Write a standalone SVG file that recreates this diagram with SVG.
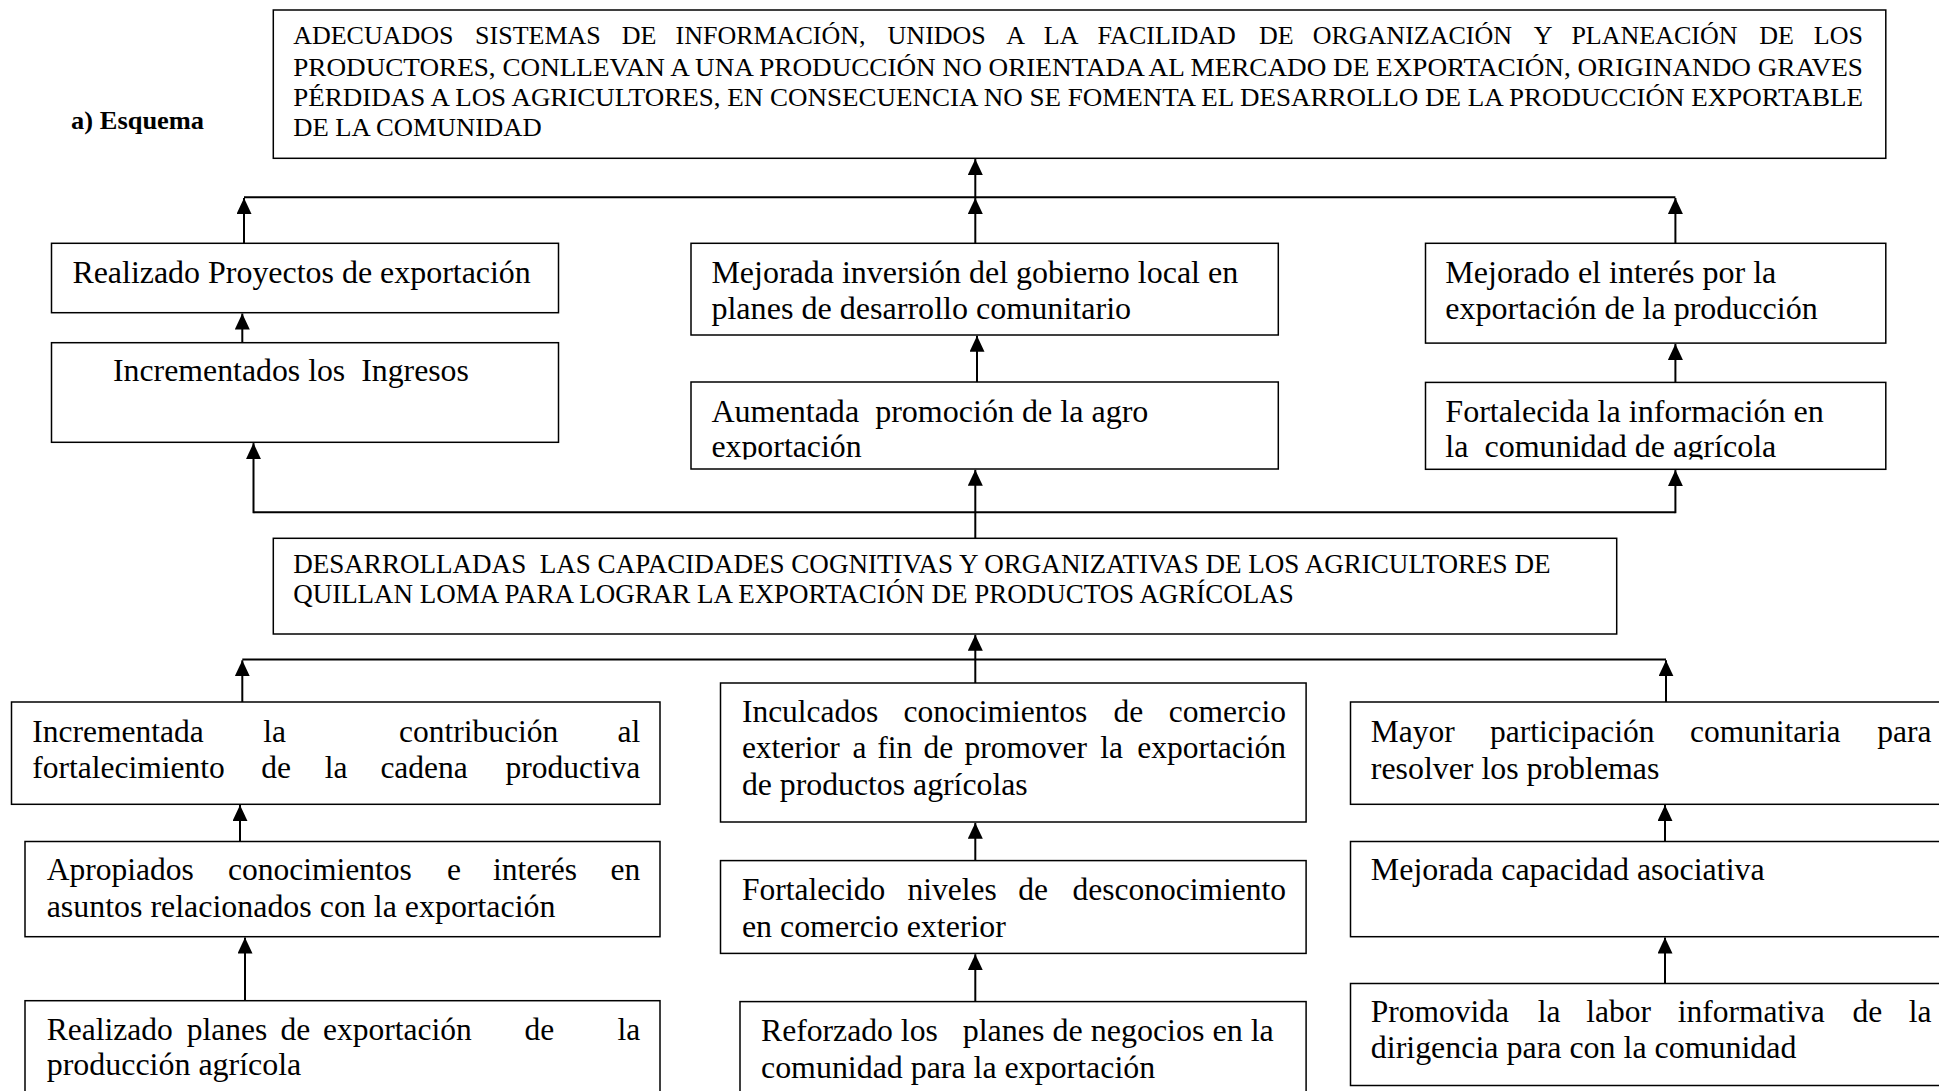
<svg xmlns="http://www.w3.org/2000/svg" width="1939" height="1091" viewBox="0 0 1939 1091">
<style>
.bx{fill:#fff;stroke:#000;stroke-width:1.5}
.t{font-family:"Liberation Serif","Times New Roman",serif;font-size:31px;fill:#000}
.w{font-size:31.5px}
.c{font-family:"Liberation Serif","Times New Roman",serif;font-size:25.5px;fill:#000}
.cw{font-size:26px}
.m{font-family:"Liberation Serif","Times New Roman",serif;font-size:26.5px;fill:#000}
.e{text-anchor:end}
.cn line{stroke:#000;stroke-width:2;fill:none}
.cn line.a{marker-end:url(#ah)}
</style>
<defs>
<marker id="ah" markerUnits="userSpaceOnUse" markerWidth="16" markerHeight="16" refX="16" refY="7.5" orient="auto">
<path d="M0,0 L16,7.5 L0,15 z" fill="#000"/>
</marker>
<clipPath id="clipA"><rect x="691" y="382" width="588" height="77.5"/></clipPath>
<clipPath id="clipB"><rect x="1425" y="382" width="461" height="77.5"/></clipPath>
</defs>
<rect width="1939" height="1091" fill="#fff"/>

<text x="71.1" y="128.6" font-family="Liberation Serif, serif" font-weight="bold" font-size="25" textLength="133" lengthAdjust="spacingAndGlyphs">a) Esquema</text>

<g class="cn">
<line x1="244" y1="197.3" x2="1675.4" y2="197.3"/>
<line class="a" x1="975.3" y1="197.3" x2="975.3" y2="159"/>
<line class="a" x1="244" y1="243.3" x2="244" y2="198"/>
<line class="a" x1="975.3" y1="243.3" x2="975.3" y2="198"/>
<line class="a" x1="1675.4" y1="243.3" x2="1675.4" y2="198"/>
<line class="a" x1="242.3" y1="342.7" x2="242.3" y2="313.5"/>
<line class="a" x1="977" y1="382" x2="977" y2="335.8"/>
<line class="a" x1="1675.4" y1="382.4" x2="1675.4" y2="343.9"/>
<line x1="253.5" y1="512.3" x2="1675.4" y2="512.3"/>
<line class="a" x1="253.5" y1="513.2" x2="253.5" y2="443.1"/>
<line class="a" x1="975.3" y1="512.3" x2="975.3" y2="469.8"/>
<line class="a" x1="1675.4" y1="513.2" x2="1675.4" y2="470.1"/>
<line x1="975.3" y1="538.3" x2="975.3" y2="512.3"/>
<line x1="242.3" y1="659.5" x2="1666" y2="659.5"/>
<line class="a" x1="975.3" y1="683" x2="975.3" y2="634.8"/>
<line class="a" x1="242.3" y1="702" x2="242.3" y2="660.3"/>
<line class="a" x1="1666" y1="702" x2="1666" y2="660.3"/>
<line class="a" x1="240" y1="841.5" x2="240" y2="805.1"/>
<line class="a" x1="975.3" y1="860.6" x2="975.3" y2="822.8"/>
<line class="a" x1="1665" y1="841.5" x2="1665" y2="805.1"/>
<line class="a" x1="245" y1="1000.7" x2="245" y2="937.5"/>
<line class="a" x1="975.3" y1="1001.6" x2="975.3" y2="954.2"/>
<line class="a" x1="1665" y1="983.5" x2="1665" y2="937.5"/>
</g>

<g id="n-top">
<rect class="bx" x="273.3" y="10" width="1612.5" height="148.3"/>
<text class="c cw" y="44.3"><tspan x="293.2">ADECUADOS</tspan><tspan x="475.1">SISTEMAS</tspan><tspan x="621.7">DE</tspan><tspan x="675.5">INFORMACIÓN,</tspan><tspan x="887.6">UNIDOS</tspan><tspan x="1006.2">A</tspan><tspan x="1043.8">LA</tspan><tspan x="1097.6">FACILIDAD</tspan><tspan x="1258.9">DE</tspan><tspan x="1312.7">ORGANIZACIÓN</tspan><tspan x="1533.8">Y</tspan><tspan x="1571.4">PLANEACIÓN</tspan><tspan x="1759.2">DE</tspan></text>
<text class="c cw e" x="1862.9" y="44.3">LOS</text>
<text class="c" x="293.2" y="75.5" textLength="1569.7" lengthAdjust="spacingAndGlyphs">PRODUCTORES, CONLLEVAN A UNA PRODUCCIÓN NO ORIENTADA AL MERCADO DE EXPORTACIÓN, ORIGINANDO GRAVES</text>
<text class="c" x="293.2" y="106" textLength="1569.7" lengthAdjust="spacingAndGlyphs">PÉRDIDAS A LOS AGRICULTORES, EN CONSECUENCIA NO SE FOMENTA EL DESARROLLO DE LA PRODUCCIÓN EXPORTABLE</text>
<text class="c" x="293.2" y="136" textLength="248.5" lengthAdjust="spacingAndGlyphs">DE LA COMUNIDAD</text>
</g>

<g id="n-proyectos">
<rect class="bx" x="51.5" y="243.3" width="507" height="69.4"/>
<text class="t" x="72.4" y="283.3" textLength="458.4" lengthAdjust="spacingAndGlyphs">Realizado Proyectos de exportación</text>
</g>

<g id="n-ingresos">
<rect class="bx" x="51.5" y="342.7" width="507" height="99.6"/>
<text class="t" x="113" y="381" textLength="355.9" lengthAdjust="spacingAndGlyphs" xml:space="preserve">Incrementados los  Ingresos</text>
</g>

<g id="n-inversion">
<rect class="bx" x="691" y="243.3" width="587.3" height="91.7"/>
<text class="t" x="711.4" y="282.5" textLength="526.8" lengthAdjust="spacingAndGlyphs">Mejorada inversión del gobierno local en</text>
<text class="t" x="711.4" y="318.5" textLength="419.7" lengthAdjust="spacingAndGlyphs">planes de desarrollo comunitario</text>
</g>

<g id="n-promocion">
<rect class="bx" x="691" y="382" width="587.3" height="87"/>
<g clip-path="url(#clipA)">
<text class="t" x="711.4" y="421.5" textLength="437" lengthAdjust="spacingAndGlyphs" xml:space="preserve">Aumentada  promoción de la agro</text>
<text class="t" x="711.4" y="456.5" textLength="150.3" lengthAdjust="spacingAndGlyphs">exportación</text>
</g>
</g>

<g id="n-interes">
<rect class="bx" x="1425.5" y="243.3" width="460.3" height="99.8"/>
<text class="t" x="1445.3" y="282.5" textLength="331" lengthAdjust="spacingAndGlyphs">Mejorado el interés por la</text>
<text class="t" x="1445.3" y="318.5" textLength="372.4" lengthAdjust="spacingAndGlyphs">exportación de la producción</text>
</g>

<g id="n-informacion">
<rect class="bx" x="1425.5" y="382.4" width="460.3" height="86.9"/>
<g clip-path="url(#clipB)">
<text class="t" x="1445.3" y="421.5" textLength="378.6" lengthAdjust="spacingAndGlyphs">Fortalecida la información en</text>
<text class="t" x="1445.3" y="456.5" textLength="331" lengthAdjust="spacingAndGlyphs" xml:space="preserve">la  comunidad de agrícola</text>
</g>
</g>

<g id="n-capacidades">
<rect class="bx" x="273.3" y="538.3" width="1343.4" height="95.7"/>
<text class="m" x="293.2" y="572.7" textLength="1257.3" lengthAdjust="spacingAndGlyphs" xml:space="preserve">DESARROLLADAS  LAS CAPACIDADES COGNITIVAS Y ORGANIZATIVAS DE LOS AGRICULTORES DE</text>
<text class="m" x="293.2" y="603.3" textLength="1000.6" lengthAdjust="spacingAndGlyphs">QUILLAN LOMA PARA LOGRAR LA EXPORTACIÓN DE PRODUCTOS AGRÍCOLAS</text>
</g>

<g id="n-contribucion">
<rect class="bx" x="11.5" y="702" width="648.5" height="102.3"/>
<text class="t w" y="741.7"><tspan x="32.3">Incrementada</tspan><tspan x="263.3">la</tspan><tspan x="399">contribución</tspan></text>
<text class="t w e" x="640.3" y="741.7">al</text>
<text class="t w" y="778.3"><tspan x="32.3">fortalecimiento</tspan><tspan x="261.2">de</tspan><tspan x="324.8">la</tspan><tspan x="380.4">cadena</tspan></text>
<text class="t w e" x="640.3" y="778.3">productiva</text>
</g>

<g id="n-apropiados">
<rect class="bx" x="25" y="841.5" width="635" height="95.2"/>
<text class="t w" y="880"><tspan x="46.7">Apropiados</tspan><tspan x="228">conocimientos</tspan><tspan x="447">e</tspan><tspan x="493">interés</tspan></text>
<text class="t w e" x="640.3" y="880">en</text>
<text class="t" x="46.7" y="916.5" textLength="508.8" lengthAdjust="spacingAndGlyphs">asuntos relacionados con la exportación</text>
</g>

<g id="n-planes">
<rect class="bx" x="25" y="1000.7" width="635" height="110"/>
<text class="t w" y="1040"><tspan x="46.7">Realizado</tspan><tspan x="186.7">planes</tspan><tspan x="280.5">de</tspan><tspan x="323">exportación</tspan><tspan x="524.6">de</tspan></text>
<text class="t w e" x="640.3" y="1040">la</text>
<text class="t" x="46.7" y="1075" textLength="254.6" lengthAdjust="spacingAndGlyphs">producción agrícola</text>
</g>

<g id="n-inculcados">
<rect class="bx" x="720.5" y="683" width="585.6" height="139"/>
<text class="t w" y="721.5"><tspan x="741.9">Inculcados</tspan><tspan x="903.6">conocimientos</tspan><tspan x="1113.6">de</tspan></text>
<text class="t w e" x="1286" y="721.5">comercio</text>
<text class="t w" y="758"><tspan x="741.9">exterior</tspan><tspan x="852.5">a</tspan><tspan x="877.3">fin</tspan><tspan x="923.6">de</tspan><tspan x="964.5">promover</tspan><tspan x="1100.2">la</tspan></text>
<text class="t w e" x="1286" y="758">exportación</text>
<text class="t" x="741.9" y="794.5" textLength="285.8" lengthAdjust="spacingAndGlyphs">de productos agrícolas</text>
</g>

<g id="n-desconocimiento">
<rect class="bx" x="720.5" y="860.6" width="585.6" height="92.8"/>
<text class="t w" y="900"><tspan x="741.9">Fortalecido</tspan><tspan x="907.5">niveles</tspan><tspan x="1018.2">de</tspan></text>
<text class="t w e" x="1286" y="900">desconocimiento</text>
<text class="t" x="741.9" y="936.8" textLength="264" lengthAdjust="spacingAndGlyphs">en comercio exterior</text>
</g>

<g id="n-negocios">
<rect class="bx" x="740" y="1001.6" width="566.1" height="110"/>
<text class="t" x="761" y="1041" textLength="176.8" lengthAdjust="spacingAndGlyphs">Reforzado los</text>
<text class="t" x="962.7" y="1041" textLength="311.1" lengthAdjust="spacingAndGlyphs">planes de negocios en la</text>
<text class="t" x="761" y="1077.5" textLength="394.2" lengthAdjust="spacingAndGlyphs">comunidad para la exportación</text>
</g>

<g id="n-participacion">
<rect class="bx" x="1350.5" y="702" width="610" height="102.3"/>
<text class="t w" y="742"><tspan x="1370.8">Mayor</tspan><tspan x="1490">participación</tspan><tspan x="1690">comunitaria</tspan></text>
<text class="t w e" x="1931.4" y="742">para</text>
<text class="t" x="1370.8" y="778.5" textLength="288.6" lengthAdjust="spacingAndGlyphs">resolver los problemas</text>
</g>

<g id="n-asociativa">
<rect class="bx" x="1350.5" y="841.5" width="610" height="95.2"/>
<text class="t" x="1370.8" y="880" textLength="393.9" lengthAdjust="spacingAndGlyphs">Mejorada capacidad asociativa</text>
</g>

<g id="n-informativa">
<rect class="bx" x="1350.5" y="983.5" width="610" height="102"/>
<text class="t w" y="1021.5"><tspan x="1370.8">Promovida</tspan><tspan x="1537.8">la</tspan><tspan x="1586.2">labor</tspan><tspan x="1677.7">informativa</tspan><tspan x="1852.5">de</tspan></text>
<text class="t w e" x="1931.4" y="1021.5">la</text>
<text class="t" x="1370.8" y="1057.5" textLength="425.7" lengthAdjust="spacingAndGlyphs">dirigencia para con la comunidad</text>
</g>
</svg>
